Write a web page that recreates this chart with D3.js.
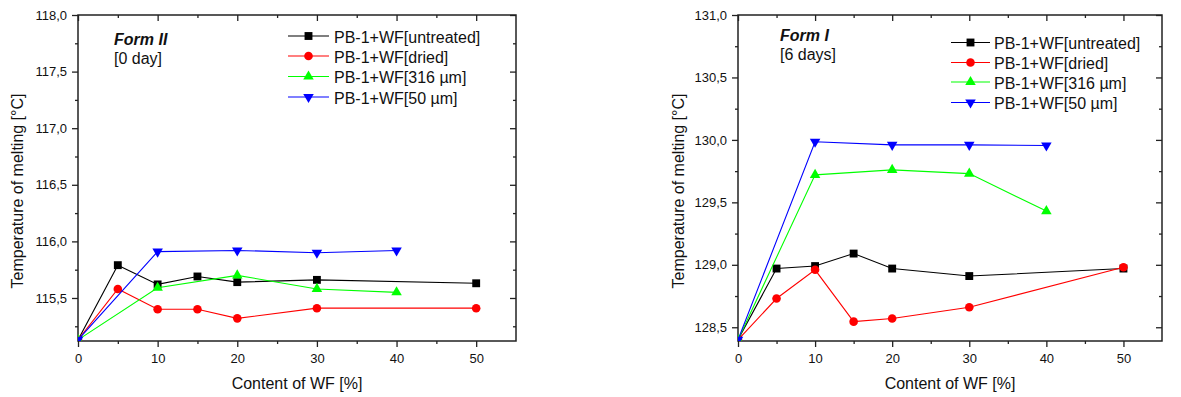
<!DOCTYPE html>
<html><head><meta charset="utf-8">
<script src="https://cdn.jsdelivr.net/npm/d3@7"></script>
<style>body{margin:0;background:#fff;} svg{display:block;font-family:"Liberation Sans",Arial,sans-serif;}</style>
</head><body>
<svg id="chart" width="1181" height="397"></svg>
<script>
const seriesNames = ["PB-1+WF[untreated]", "PB-1+WF[dried]", "PB-1+WF[316 \u00b5m]", "PB-1+WF[50 \u00b5m]"];
const seriesColors = ["#000000", "#ff0000", "#00ff00", "#0000ff"];
const seriesSymbols = ["square", "circle", "triangle", "triangleDown"];

const xFull = [0, 5, 10, 15, 20, 30, 50];
const xPart = [0, 10, 20, 30, 40];

// Form II [0 day]
const formII_untreated = [115.13, 115.79, 115.62, 115.69, 115.64, 115.66, 115.63];
const formII_dried     = [115.13, 115.58, 115.40, 115.40, 115.32, 115.41, 115.41];
const formII_316       = [115.13, 115.59, 115.70, 115.58, 115.55];
const formII_50        = [115.13, 115.91, 115.92, 115.90, 115.92];

// Form I [6 days]
const formI_untreated = [128.40, 128.97, 128.99, 129.09, 128.97, 128.91, 128.97];
const formI_dried     = [128.40, 128.73, 128.96, 128.545, 128.57, 128.66, 128.98];
const formI_316       = [128.40, 129.72, 129.76, 129.73, 129.43];
const formI_50        = [128.40, 129.985, 129.96, 129.96, 129.955];

const xTicks = [0, 10, 20, 30, 40, 50];
const xMinorTicks = [5, 15, 25, 35, 45];
const formII_yTicks = [115.5, 116.0, 116.5, 117.0, 117.5, 118.0];
const formII_yMinor = [115.25, 115.75, 116.25, 116.75, 117.25, 117.75];
const formI_yTicks = [128.5, 129.0, 129.5, 130.0, 130.5, 131.0];
const formI_yMinor = [128.75, 129.25, 129.75, 130.25, 130.75];

const xTitle = "Content of WF [%]";
const yTitle = "Temperature of melting [\u00b0C]";

const svg = d3.select("#chart");
const fmt = v => d3.format(".1f")(v).replace(".", ",");

const symbolMap = {
  square: d3.symbol().type(d3.symbolSquare).size(62),
  circle: d3.symbol().type(d3.symbolCircle).size(58),
  triangle: d3.symbol().type(d3.symbolTriangle).size(48),
  triangleDown: d3.symbol().type(d3.symbolTriangle).size(48)
};

function drawPanel(cfg) {
  const g = svg.append("g");
  const x = d3.scaleLinear().domain([0, 55]).range([cfg.left, cfg.right]);
  const y = d3.scaleLinear().domain(cfg.yDomain).range([cfg.bottom, cfg.top]);

  const clipId = "clip" + cfg.id;
  svg.append("clipPath").attr("id", clipId).append("rect")
    .attr("x", cfg.left).attr("y", cfg.top)
    .attr("width", cfg.right - cfg.left).attr("height", cfg.bottom - cfg.top);

  const axisColor = "#222";
  // bottom axis (outward ticks)
  const bottom = g.append("g").attr("transform", `translate(0,${cfg.bottom})`);
  bottom.call(d3.axisBottom(x).tickValues(xTicks).tickSize(6).tickPadding(7).tickFormat(d3.format("d")));
  bottom.append("g").call(d3.axisBottom(x).tickValues(xMinorTicks).tickSize(3).tickFormat(""));
  // top axis (inward ticks)
  const top = g.append("g").attr("transform", `translate(0,${cfg.top})`);
  top.call(d3.axisBottom(x).tickValues(xTicks).tickSize(6).tickFormat(""));
  top.append("g").call(d3.axisBottom(x).tickValues(xMinorTicks).tickSize(3).tickFormat(""));
  // left axis (outward)
  const leftAx = g.append("g").attr("transform", `translate(${cfg.left},0)`);
  leftAx.call(d3.axisLeft(y).tickValues(cfg.yTicks).tickSize(6).tickPadding(cfg.yPad).tickFormat(fmt));
  leftAx.append("g").call(d3.axisLeft(y).tickValues(cfg.yMinor).tickSize(3).tickFormat(""));
  // right axis (inward)
  const rightAx = g.append("g").attr("transform", `translate(${cfg.right},0)`);
  rightAx.call(d3.axisLeft(y).tickValues(cfg.yTicks).tickSize(6).tickFormat(""));
  rightAx.append("g").call(d3.axisLeft(y).tickValues(cfg.yMinor).tickSize(3).tickFormat(""));

  g.selectAll(".domain").remove();
  g.selectAll(".tick line").attr("stroke", axisColor).attr("stroke-width", 1.3);
  g.selectAll(".tick text").attr("fill", "#111").style("font-size", "13px")
    .style("font-family", '"Liberation Sans",Arial,sans-serif');

  g.append("rect").attr("x", cfg.left).attr("y", cfg.top)
    .attr("width", cfg.right - cfg.left).attr("height", cfg.bottom - cfg.top)
    .attr("fill", "none").attr("stroke", axisColor).attr("stroke-width", 1.5);

  // data
  const plot = g.append("g").attr("clip-path", `url(#${clipId})`);
  cfg.series.forEach((s, i) => {
    const pts = s.xs.map((xv, k) => [xv, s.ys[k]]);
    plot.append("path").datum(pts)
      .attr("fill", "none").attr("stroke", seriesColors[i]).attr("stroke-width", 1.1)
      .attr("d", d3.line().x(d => x(d[0])).y(d => y(d[1])));
    const sym = seriesSymbols[i];
    plot.selectAll(null).data(pts).enter().append("path")
      .attr("d", symbolMap[sym]())
      .attr("fill", seriesColors[i])
      .attr("transform", d => `translate(${x(d[0])},${y(d[1])})` + (sym === "triangleDown" ? " rotate(180)" : ""));
  });

  // legend
  const lg = g.append("g");
  seriesNames.forEach((name, i) => {
    const ry = cfg.legend.rows[i];
    lg.append("line").attr("x1", cfg.legend.x1).attr("x2", cfg.legend.x2)
      .attr("y1", ry).attr("y2", ry).attr("stroke", seriesColors[i]).attr("stroke-width", 1.1);
    const sym = seriesSymbols[i];
    lg.append("path").attr("d", symbolMap[sym]()).attr("fill", seriesColors[i])
      .attr("transform", `translate(${(cfg.legend.x1 + cfg.legend.x2) / 2},${ry})` + (sym === "triangleDown" ? " rotate(180)" : ""));
    lg.append("text").attr("x", cfg.legend.tx).attr("y", ry + 6.5)
      .style("font-size", "16px").attr("fill", "#111").text(name);
  });

  // annotations
  g.append("text").attr("x", cfg.note.x).attr("y", cfg.note.y1)
    .style("font-size", "16px").style("font-weight", "bold").style("font-style", "italic")
    .attr("fill", "#111").text(cfg.note.title);
  g.append("text").attr("x", cfg.note.x).attr("y", cfg.note.y2)
    .style("font-size", "16px").attr("fill", "#111").text(cfg.note.sub);

  // axis titles
  g.append("text").attr("x", (cfg.left + cfg.right) / 2).attr("y", 389)
    .attr("text-anchor", "middle").style("font-size", "16px").attr("fill", "#111").text(xTitle);
  g.append("text").attr("transform", `translate(${cfg.yTitleX},191) rotate(-90)`)
    .attr("text-anchor", "middle").style("font-size", "16px").attr("fill", "#111").text(yTitle);
}

drawPanel({
  id: "A", left: 78, right: 516, top: 15, bottom: 341,
  yDomain: [115.12, 118], yTicks: formII_yTicks, yMinor: formII_yMinor, yPad: 5,
  yTitleX: 23,
  series: [
    { xs: xFull, ys: formII_untreated },
    { xs: xFull, ys: formII_dried },
    { xs: xPart, ys: formII_316 },
    { xs: xPart, ys: formII_50 }
  ],
  legend: { x1: 288, x2: 329, tx: 334, rows: [36, 56, 76.5, 97] },
  note: { x: 114, y1: 45, y2: 63.5, title: "Form II", sub: "[0 day]" }
});

drawPanel({
  id: "B", left: 738, right: 1162, top: 15, bottom: 341,
  yDomain: [128.39, 131], yTicks: formI_yTicks, yMinor: formI_yMinor, yPad: 5,
  yTitleX: 684,
  series: [
    { xs: xFull, ys: formI_untreated },
    { xs: xFull, ys: formI_dried },
    { xs: xPart, ys: formI_316 },
    { xs: xPart, ys: formI_50 }
  ],
  legend: { x1: 951, x2: 990, tx: 994, rows: [42.5, 62.5, 82, 102.5] },
  note: { x: 780, y1: 41, y2: 59.5, title: "Form I", sub: "[6 days]" }
});
</script>
</body></html>
